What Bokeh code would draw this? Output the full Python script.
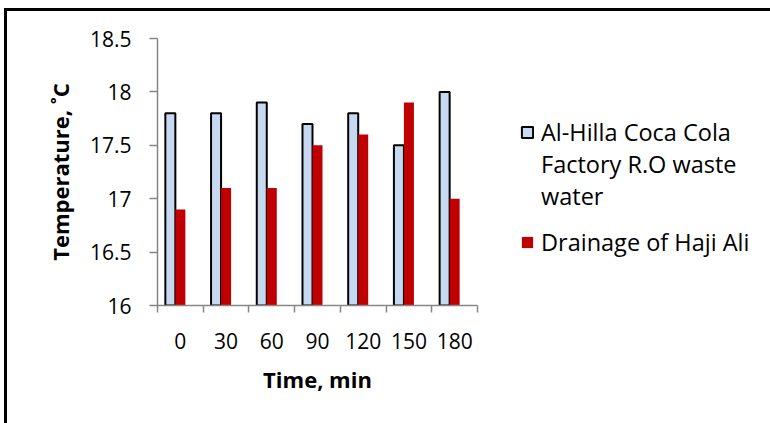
from bokeh.plotting import figure
from bokeh.models import (ColumnDataSource, FixedTicker, NumeralTickFormatter,
                          Range1d, Legend, LegendItem)
from bokeh.transform import dodge
from bokeh.embed import file_html
from bokeh.resources import INLINE

times = ["0", "30", "60", "90", "120", "150", "180"]
coca_cola = [17.8, 17.8, 17.9, 17.7, 17.8, 17.5, 18.0]
haji_ali = [16.9, 17.1, 17.1, 17.5, 17.6, 17.9, 17.0]
y_ticks = [16, 16.5, 17, 17.5, 18, 18.5]
name_a_lines = ["Al-Hilla Coca Cola", "Factory R.O waste\nwater"]
name_b = "Drainage of Haji Ali"

idx = list(range(len(times)))
src = ColumnDataSource(dict(x=idx, a=coca_cola, b=haji_ali))

FONT = "Open Sans"
BW = 0.219

p = figure(frame_width=320, frame_height=267, output_backend="svg", toolbar_location=None,
           x_range=Range1d(-0.5, len(times) - 0.5), y_range=Range1d(16, 18.5),
           min_border_left=150, min_border_right=293, min_border_top=27,
           min_border_bottom=118)
p.styles = {"margin-left": "4px", "margin-top": "8px",
            "border-left": "3px solid black", "border-top": "3px solid black"}

r1 = p.vbar(x=dodge("x", -BW, range=p.x_range), top="a", bottom=16, width=BW,
            source=src, fill_color="#C6D9F1", line_color="black", line_width=2)
r2 = p.vbar(x=dodge("x", 0, range=p.x_range), top="b", bottom=16, width=BW,
            source=src, fill_color="#C00000", line_color=None)
# invisible helper renderer, used only for legend continuation lines / spacing
r_blank = p.vbar(x=[], top=[], width=BW, fill_alpha=0, line_alpha=0)

p.grid.visible = False
p.outline_line_color = None
p.background_fill_color = "white"

AX = "#868686"
xa = p.xaxis[0]
xa.ticker = FixedTicker(ticks=idx, minor_ticks=[i - 0.5 for i in range(len(times) + 1)])
xa.major_label_overrides = {i: t for i, t in enumerate(times)}
xa.major_tick_out = 0
xa.major_tick_in = 0
xa.minor_tick_out = 7
xa.minor_tick_in = 0
xa.minor_tick_line_color = AX
xa.axis_line_color = AX
xa.axis_line_width = 1.5
xa.minor_tick_line_width = 1.5
xa.major_label_standoff = 20
xa.axis_label = "Time, min"
xa.axis_label_standoff = 12

ya = p.yaxis[0]
ya.ticker = FixedTicker(ticks=y_ticks)
ya.formatter = NumeralTickFormatter(format="0.[0]")
ya.major_tick_out = 8
ya.major_tick_in = 0
ya.minor_tick_out = 0
ya.minor_tick_in = 0
ya.major_tick_line_color = AX
ya.axis_line_color = AX
ya.axis_line_width = 1.5
ya.major_tick_line_width = 1.5
ya.major_label_standoff = 18
ya.axis_label = "Temperature, \u02daC"
ya.axis_label_standoff = 12

for ax in (xa, ya):
    ax.major_label_text_font = FONT
    ax.major_label_text_font_size = "21px"
    ax.major_label_text_color = "black"
    ax.axis_label_text_font = FONT
    ax.axis_label_text_font_size = "22px"
    ax.axis_label_text_font_style = "bold"
    ax.axis_label_text_color = "black"

legend = Legend(items=[LegendItem(label=name_a_lines[0], renderers=[r1]),
                       LegendItem(label=name_a_lines[1], renderers=[r_blank]),
                       LegendItem(label="", renderers=[r_blank]),
                       LegendItem(label=name_b, renderers=[r2])],
                location=(43, 47), padding=0, margin=0, spacing=0,
                glyph_width=14, glyph_height=14, label_standoff=7,
                label_text_font=FONT, label_text_font_size="23.5px",
                label_text_line_height=1.40, label_text_color="black",
                border_line_color=None, background_fill_alpha=0)
p.add_layout(legend, "right")

open("out.html", "w").write(file_html(p, INLINE))
